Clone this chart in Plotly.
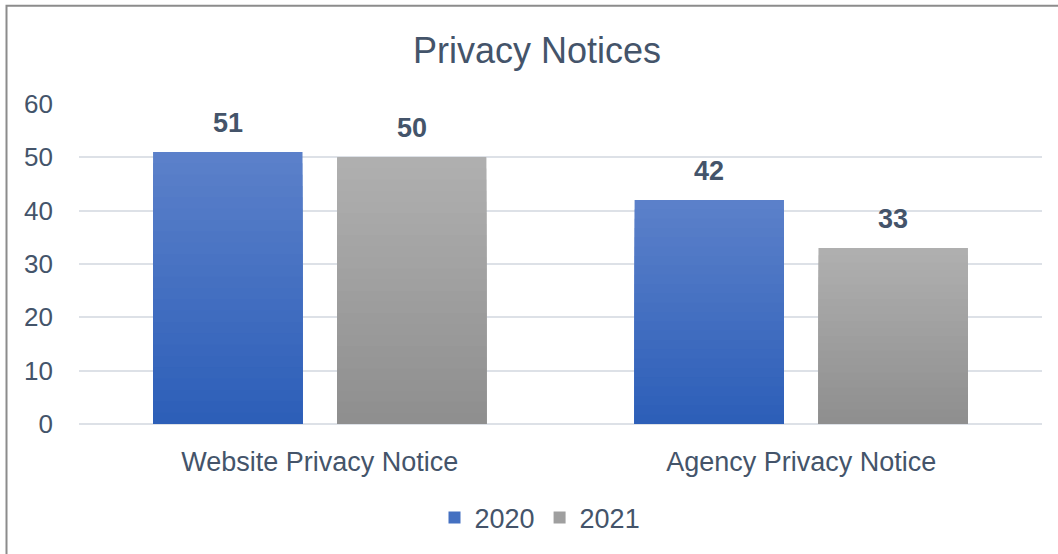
import plotly.graph_objects as go

categories = ["Website Privacy Notice", "Agency Privacy Notice"]
series_names = ["2020", "2021"]
values_2020 = [51, 42]
values_2021 = [50, 33]
y_ticks = [0, 10, 20, 30, 40, 50, 60]

TEXT = "#44546A"
FONT = "Liberation Sans, Arial, sans-serif"
# (top, bottom) colours of each series' vertical gradient
gradients = [((92, 129, 202), (44, 94, 184)), ((176, 176, 176), (142, 142, 142))]
N_STEPS = 24

BARGAP = 0.236
BARGROUPGAP = 0.19


def mix(c1, c2, t):
    return "rgb(%d,%d,%d)" % tuple(round(a + (b - a) * t) for a, b in zip(c1, c2))


fig = go.Figure()
all_series = [values_2020, values_2021]
for name, vals, (top, bot) in zip(series_names, all_series, gradients):
    # main bar (legend entry)
    fig.add_trace(go.Bar(
        x=categories, y=vals, name=name, offsetgroup=name,
        marker=dict(color=mix(top, bot, 0.5), line=dict(width=0)),
    ))
    # gradient shading layers: same offsetgroup, progressively shorter & darker
    for k in range(N_STEPS):
        frac = (N_STEPS - k) / N_STEPS
        t = (k + 0.5) / N_STEPS
        fig.add_trace(go.Bar(
            x=categories, y=[v * frac for v in vals], offsetgroup=name,
            marker=dict(color=mix(top, bot, t), line=dict(width=0)),
            showlegend=False, hoverinfo="skip",
        ))

# data labels above bars, positioned from the group geometry
group_w = 1 - BARGAP
slot = group_w / len(series_names)
for si, vals in enumerate(all_series):
    off = -group_w / 2 + slot * (si + 0.5)
    for ci, v in enumerate(vals):
        fig.add_annotation(
            x=ci + off, y=v, xref="x", yref="y", text=str(v),
            showarrow=False, yanchor="bottom", yshift=12,
            font=dict(family=FONT, size=27, color=TEXT, weight="bold"),
        )

W, H = 1058, 554
ML, MR, MT, MB = 79, 16, 104, 130
pw, ph = W - ML - MR, H - MT - MB

# outer chart border (left/top visible, right/bottom run off the page)
fig.add_shape(type="rect", xref="paper", yref="paper",
              x0=(6.5 - ML) / pw, x1=1.2, y0=-0.6, y1=(H - MB - 5.8) / ph,
              line=dict(color="#8C8C8C", width=2), fillcolor="rgba(0,0,0,0)",
              layer="below")

fig.update_layout(
    width=W, height=H,
    margin=dict(l=ML, r=MR, t=MT, b=MB),
    paper_bgcolor="white", plot_bgcolor="white",
    barmode="group", bargap=BARGAP, bargroupgap=BARGROUPGAP,
    font=dict(family=FONT, color=TEXT),
    title=dict(text="Privacy Notices", x=537 / W, xref="container", xanchor="center",
               y=1 - 50 / H, yref="container", yanchor="middle",
               font=dict(family=FONT, size=36, color=TEXT)),
    legend=dict(orientation="h", x=540 / W, xref="container", xanchor="center",
                y=1 - 518 / H, yref="container", yanchor="middle",
                font=dict(family=FONT, size=27, color=TEXT),
                traceorder="normal"),
    xaxis=dict(showgrid=False, showline=False, zeroline=False, ticks="",
               tickfont=dict(family=FONT, size=27, color=TEXT),
               ticklabelstandoff=19),
    yaxis=dict(range=[0, 60], tickvals=y_ticks, showgrid=True, gridcolor="#DDE1E7",
               gridwidth=2, zeroline=True, zerolinecolor="#DDE1E7", zerolinewidth=2,
               showline=False, ticks="",
               tickfont=dict(family=FONT, size=26, color=TEXT),
               ticklabelstandoff=25),
    showlegend=True,
)

fig.write_html("out.html", config={"displayModeBar": False},
               post_script="document.body.style.margin='0';")
